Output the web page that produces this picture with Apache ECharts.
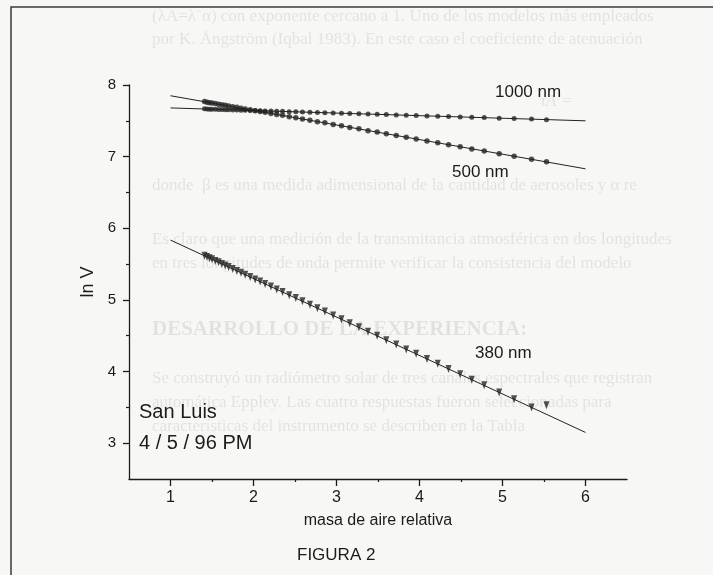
<!DOCTYPE html>
<html>
<head>
<meta charset="utf-8">
<script src="https://cdn.jsdelivr.net/npm/echarts@6/dist/echarts.min.js"></script>
<style>
  html, body { margin: 0; padding: 0; background: #f7f7f5; }
  #chart { width: 713px; height: 575px; }
</style>
</head>
<body>
<div id="chart"></div>
<script>
// air mass of each measurement (same for the three channels)
const airMass = [
  1.41, 1.44, 1.47, 1.50, 1.54, 1.58, 1.62, 1.66, 1.70, 1.75, 1.80, 1.85,
  1.90, 1.96, 2.02, 2.08, 2.14, 2.21, 2.28, 2.35, 2.43, 2.51, 2.59, 2.68,
  2.77, 2.86, 2.96, 3.06, 3.16, 3.27, 3.38, 3.49, 3.60, 3.72, 3.84, 3.96,
  4.09, 4.22, 4.35, 4.49, 4.63, 4.78, 4.96, 5.14, 5.35, 5.53,
];

const lnV1000 = [
  7.668, 7.665, 7.663, 7.662, 7.660, 7.659, 7.657, 7.656, 7.655, 7.652, 7.651, 7.649,
  7.647, 7.645, 7.644, 7.641, 7.638, 7.636, 7.634, 7.632, 7.628, 7.626, 7.622, 7.620,
  7.617, 7.613, 7.610, 7.606, 7.601, 7.598, 7.595, 7.590, 7.587, 7.582, 7.577, 7.574,
  7.569, 7.563, 7.560, 7.554, 7.549, 7.545, 7.536, 7.532, 7.524, 7.516,
];

const lnV500 = [
  7.768, 7.760, 7.753, 7.748, 7.741, 7.732, 7.723, 7.716, 7.707, 7.696, 7.688, 7.677,
  7.665, 7.655, 7.642, 7.629, 7.618, 7.603, 7.588, 7.576, 7.557, 7.543, 7.525, 7.508,
  7.488, 7.472, 7.449, 7.431, 7.408, 7.388, 7.363, 7.343, 7.318, 7.296, 7.270, 7.247,
  7.219, 7.194, 7.165, 7.139, 7.108, 7.080, 7.041, 7.006, 6.962, 6.927,
];

const lnV380 = [
  5.618, 5.600, 5.582, 5.568, 5.544, 5.525, 5.501, 5.482, 5.458, 5.433, 5.404, 5.380,
  5.351, 5.320, 5.286, 5.256, 5.222, 5.186, 5.147, 5.111, 5.066, 5.025, 4.980, 4.934,
  4.884, 4.837, 4.782, 4.730, 4.674, 4.617, 4.556, 4.499, 4.438, 4.376, 4.309, 4.247,
  4.175, 4.108, 4.035, 3.963, 3.885, 3.807, 3.708, 3.614, 3.497, 3.530,
];

// fitted lines, end points at air mass 1 and 6
const fit1000 = [[1, 7.68], [6, 7.50]];
const fit500 = [[1, 7.85], [6, 6.83]];
const fit380 = [[1, 5.835], [6, 3.15]];

const xTicks = [1, 2, 3, 4, 5, 6];
const xMinorTicks = [1.5, 2.5, 3.5, 4.5, 5.5];
const yTicks = [3, 4, 5, 6, 7, 8];
const yMinorTicks = [3.5, 4.5, 5.5, 6.5, 7.5];

// text from the other side of the scanned page, showing through
const ghostLines = [
  { y: 17, text: "(λA=λ⁻α) con exponente cercano a 1. Uno de los modelos más empleados" },
  { y: 40, text: "por K. Ångström (Iqbal 1983). En este caso el coeficiente de atenuación" },
  { y: 186, text: "donde  β es una medida adimensional de la cantidad de aerosoles y α re" },
  { y: 240, text: "Es claro que una medición de la transmitancia atmosférica en dos longitudes" },
  { y: 264, text: "en tres longitudes de onda permite verificar la consistencia del modelo" },
  { y: 379, text: "Se construyó un radiómetro solar de tres canales espectrales que registran" },
  { y: 403, text: "automática Eppley. Las cuatro respuestas fueron seleccionadas para" },
  { y: 427, text: "características del instrumento se describen en la Tabla" },
];

const font = "Liberation Sans, Arial, sans-serif";
const ink = "#1b1b1b";
const ghostInk = "rgba(0,0,0,0.085)";

function pairs(xs, ys) {
  return xs.map((x, i) => [x, ys[i]]);
}

function label(text, left, top, size) {
  return { type: "text", left, top, style: { text, font: `${size}px ${font}`, fill: ink } };
}

const chart = echarts.init(document.getElementById("chart"), null, { renderer: "canvas" });

const ghost = ghostLines.map((line) => ({
  type: "text",
  left: 152,
  top: line.y - 9,
  silent: true,
  z: -10,
  style: { text: line.text, font: "17px Liberation Serif, serif", fill: ghostInk },
}));

ghost.push({
  type: "text",
  left: 152,
  top: 319,
  silent: true,
  z: -10,
  style: { text: "DESARROLLO DE LA EXPERIENCIA:", font: "bold 21px Liberation Serif, serif", fill: ghostInk },
});
ghost.push({
  type: "text",
  left: 540,
  top: 93,
  silent: true,
  z: -10,
  style: { text: "τA =", font: "italic 17px Liberation Serif, serif", fill: ghostInk },
});

chart.setOption({
  animation: false,
  backgroundColor: "#f7f7f5",
  grid: { left: 129, top: 85, width: 498, height: 394 },
  xAxis: [
    {
      type: "value",
      min: 0.5,
      max: 6.5,
      name: "masa de aire relativa",
      nameLocation: "middle",
      nameGap: 34,
      nameTextStyle: { color: ink, fontSize: 16, fontFamily: font },
      axisLine: { show: true, onZero: false, lineStyle: { color: ink, width: 1.3 } },
      axisTick: { show: true, length: 7, customValues: xTicks, lineStyle: { color: ink, width: 1.3 } },
      axisLabel: { customValues: xTicks, margin: 11, color: ink, fontSize: 16, fontFamily: font },
      splitLine: { show: false },
    },
    {
      type: "value",
      min: 0.5,
      max: 6.5,
      position: "bottom",
      axisLine: { show: false },
      axisTick: { show: true, length: 3, customValues: xMinorTicks, lineStyle: { color: ink, width: 1.2 } },
      axisLabel: { show: false },
      splitLine: { show: false },
    },
  ],
  yAxis: [
    {
      type: "value",
      min: 2.5,
      max: 8,
      name: "ln V",
      nameLocation: "middle",
      nameGap: 24,
      nameTextStyle: { color: ink, fontSize: 18, fontFamily: font },
      axisLine: { show: true, onZero: false, lineStyle: { color: ink, width: 1.3 } },
      axisTick: { show: true, length: 6, customValues: yTicks, lineStyle: { color: ink, width: 1.3 } },
      axisLabel: { customValues: yTicks, margin: 13, color: ink, fontSize: 15, fontFamily: font },
      splitLine: { show: false },
    },
    {
      type: "value",
      min: 2.5,
      max: 8,
      position: "left",
      axisLine: { show: false },
      axisTick: { show: true, length: 3, customValues: yMinorTicks, lineStyle: { color: ink, width: 1.2 } },
      axisLabel: { show: false },
      splitLine: { show: false },
    },
  ],
  series: [
    { name: "1000 nm fit", type: "line", data: fit1000, showSymbol: false, lineStyle: { color: "#222", width: 1 } },
    { name: "500 nm fit", type: "line", data: fit500, showSymbol: false, lineStyle: { color: "#222", width: 1 } },
    { name: "380 nm fit", type: "line", data: fit380, showSymbol: false, lineStyle: { color: "#222", width: 1 } },
    {
      name: "1000 nm",
      type: "scatter",
      data: pairs(airMass, lnV1000),
      symbol: "circle",
      symbolSize: 5,
      itemStyle: { color: "#262626" },
    },
    {
      name: "500 nm",
      type: "scatter",
      data: pairs(airMass, lnV500),
      symbol: "circle",
      symbolSize: 5.5,
      itemStyle: { color: "#262626" },
    },
    {
      name: "380 nm",
      type: "scatter",
      data: pairs(airMass, lnV380),
      symbol: "triangle",
      symbolRotate: 180,
      symbolSize: [6, 8],
      itemStyle: { color: "#262626" },
    },
  ],
  graphic: [
    ...ghost,
    // frame of the scanned page
    {
      type: "polyline",
      silent: true,
      shape: { points: [[11, 575], [11, 7], [713, 7]] },
      style: { stroke: "#3a3a3a", lineWidth: 1.5, fill: null },
    },
    label("1000 nm", 495, 84, 17),
    label("500 nm", 452, 164, 17),
    label("380 nm", 475, 345, 17),
    label("San Luis", 139, 402, 20),
    label("4 / 5 / 96 PM", 139, 433, 20),
    label("FIGURA 2", 297, 547, 17),
  ],
});
</script>
</body>
</html>
